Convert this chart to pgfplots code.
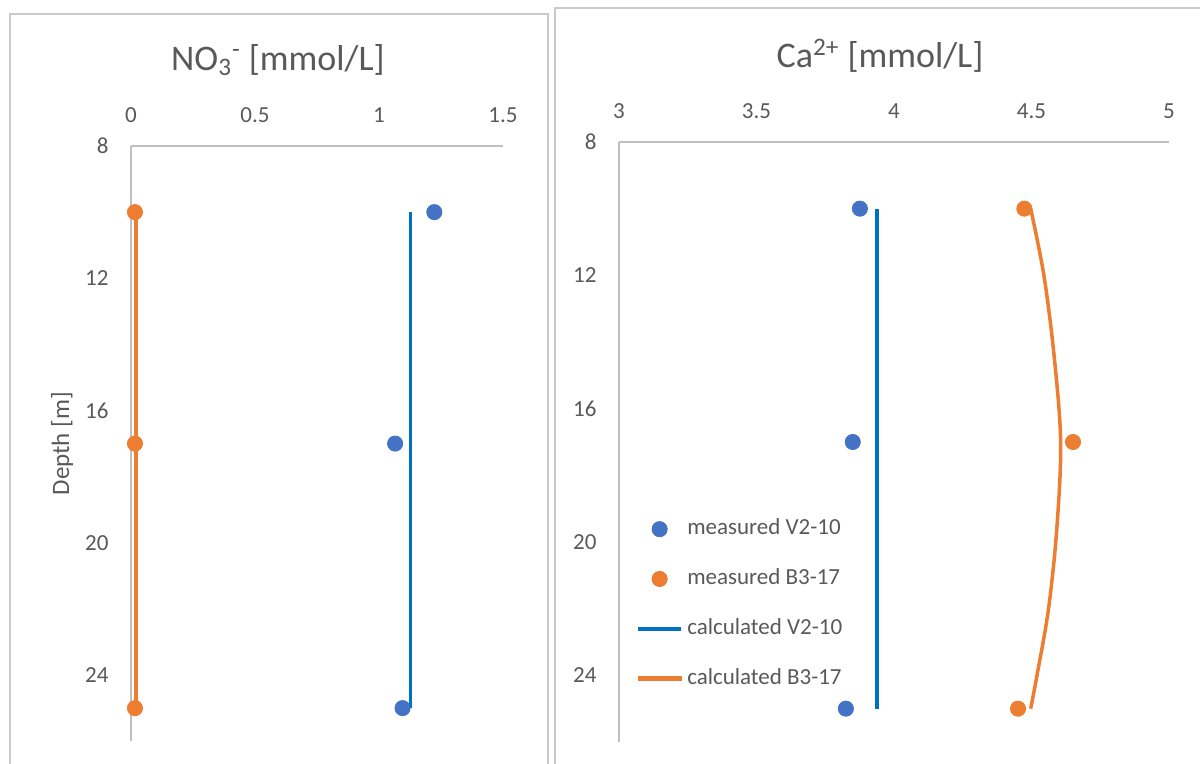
\documentclass[border=0pt]{standalone}
\usepackage{fontspec}
\setmainfont{Carlito}
\usepackage{pgfplots}
\pgfplotsset{compat=1.18}

\definecolor{mblue}{HTML}{4472C4}
\definecolor{morange}{HTML}{ED7D31}
\definecolor{cblue}{HTML}{0070C0}
\definecolor{corange}{HTML}{ED7D31}
\definecolor{txt}{HTML}{595959}
\definecolor{axisgray}{HTML}{BFBFBF}
\definecolor{framegray}{HTML}{C9C9C9}

\pgfplotsset{
  profile/.style={
    scale only axis,
    y dir=reverse,
    ymin=8, ymax=26,
    ytick={8,12,16,20,24},
    axis x line=top,
    axis y line=left,
    axis line style={axisgray, line width=0.8pt, -},
    major tick length=0pt,
    tick label style={font=\fontsize{11.5}{13}\selectfont, text=txt},
    /pgf/number format/assume math mode=true,
    xticklabel style={yshift=8pt},
    yticklabel style={xshift=-7.7pt},
    label style={font=\fontsize{12.5}{14}\selectfont, text=txt},
    legend image code/.code={%
      \draw[mark repeat=2,mark phase=2,#1]
        plot coordinates {(0pt,0pt)(10.75pt,0pt)(21.5pt,0pt)};},
  },
  measured/.style={only marks, mark=*, mark size=3.8pt,
    color=#1, mark options={fill=#1, draw=#1}},
  calculated/.style={no marks, color=#1, line width=1.75pt,
    legend image post style={line width=2.1pt}},
}

\begin{document}
\begin{tikzpicture}
  \useasboundingbox (0pt,0pt) rectangle (600pt,382pt);
  \clip (0pt,0pt) rectangle (600pt,382pt);

  % chart area frames
  \draw[framegray, line width=1pt] (5pt,-10pt) -- (5pt,375pt) -- (274pt,375pt) -- (274pt,-10pt);
  \draw[framegray, line width=1pt] (277.5pt,-10pt) -- (277.5pt,378pt) -- (610pt,378pt);

  % titles
  \node[text=txt, font=\fontsize{18}{21}\selectfont] at (139pt,352pt)
    {NO\textsubscript{3}\textsuperscript{-} [mmol/L]};
  \node[text=txt, font=\fontsize{18}{21}\selectfont] at (440pt,354pt)
    {Ca\textsuperscript{2+} [mmol/L]};

  % nitrate profile
  \begin{axis}[profile,
    at={(65.5pt,309pt)}, anchor=north west,
    width=186pt, height=297.6pt,
    xmin=0, xmax=1.5, xtick={0,0.5,1,1.5},
    ylabel={Depth [m]},
    ylabel style={at={(axis description cs:-0.185,0.5)}, anchor=center, rotate=0},
  ]
    \addplot[measured=mblue] coordinates {(1.223,10) (1.065,17) (1.095,25)};
    \addplot[measured=morange] coordinates {(0.016,10) (0.016,17) (0.016,25)};
    \addplot[calculated=cblue] coordinates {(1.128,10) (1.128,25)};
    \addplot[calculated=corange] coordinates {(0.02,10) (0.02,25)};
  \end{axis}

  % calcium profile
  \begin{axis}[profile,
    at={(309.5pt,311pt)}, anchor=north west,
    width=275pt, height=300pt,
    xmin=3, xmax=5, xtick={3,3.5,4,4.5,5},
    legend cell align=left,
    legend style={draw=none, fill=none, inner sep=0pt, outer sep=0pt,
      at={(axis cs:3.062,19.21)}, anchor=north west,
      font=\fontsize{11.5}{13}\selectfont, text=txt,
      row sep=11.4pt,
      nodes={inner sep=2pt, text height=7.5pt, text depth=2pt}},
  ]
    \addplot[measured=mblue] coordinates {(3.876,10) (3.850,17) (3.825,25)};
    \addlegendentry{measured V2-10}
    \addplot[measured=morange] coordinates {(4.474,10) (4.651,17) (4.451,25)};
    \addlegendentry{measured B3-17}
    \addplot[calculated=cblue] coordinates {(3.939,10) (3.939,25)};
    \addlegendentry{calculated V2-10}
    \addplot[calculated=corange, smooth, tension=0.55] coordinates {
      (4.497,10) (4.545,12) (4.582,14.4) (4.606,17)
      (4.592,19.6) (4.562,22) (4.520,24) (4.497,25)};
    \addlegendentry{calculated B3-17}
  \end{axis}
\end{tikzpicture}
\end{document}
